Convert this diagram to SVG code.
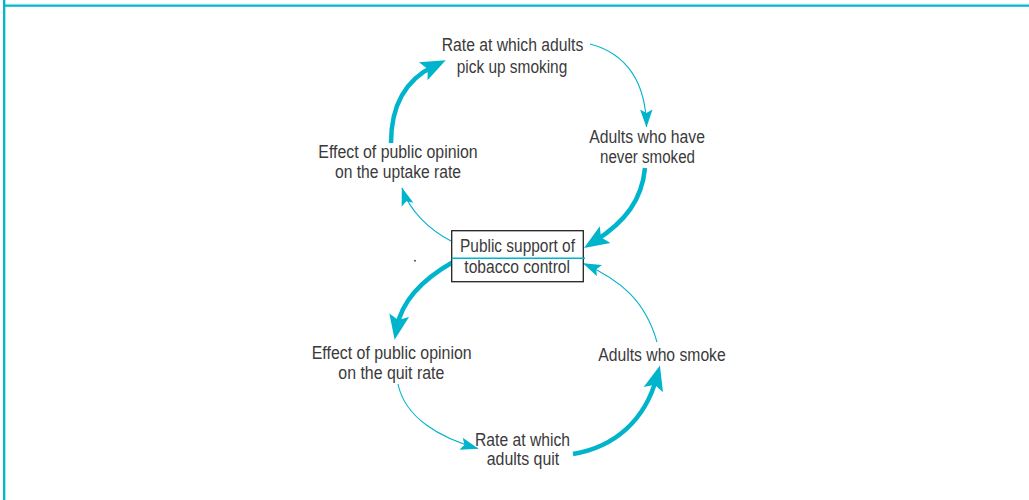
<svg xmlns="http://www.w3.org/2000/svg" width="1029" height="500" viewBox="0 0 1029 500">
<style>
  .lbl { font-family: "Liberation Sans", Arial, sans-serif; font-size: 17.5px; fill: #3a3a3a; }
  .thick { fill: none; stroke: #00b4cc; stroke-width: 4.5; stroke-linecap: butt; }
  .thin { fill: none; stroke: #00b4cc; stroke-width: 1.1; }
  .frame { stroke: #00b4cc; fill: none; }
</style>
<defs>
  <marker id="headThick" markerUnits="userSpaceOnUse" markerWidth="28" markerHeight="22" viewBox="0 0 28 22" refX="12" refY="11" orient="auto">
    <path d="M0,1 L25,11 L0,21 L5,11 z" fill="#00b4cc"/>
  </marker>
  <marker id="headThin" markerUnits="userSpaceOnUse" markerWidth="20" markerHeight="14" viewBox="0 0 20 14" refX="17.5" refY="7" orient="auto">
    <path d="M0,0.8 L18,7 L0,13.2 L3.5,7 z" fill="#00b4cc"/>
  </marker>
</defs>
<rect width="1029" height="500" fill="#ffffff"/>
<g id="frame">
  <line class="frame" x1="3" y1="5.7" x2="1029" y2="5.7" stroke-width="2.2"/>
  <line x1="3" y1="4.2" x2="1029" y2="4.2" stroke="#9fe0ea" stroke-width="0.8"/>
  <line class="frame" x1="4.2" y1="0" x2="4.2" y2="500" stroke-width="2.3"/>
</g>
<g id="connectors">
  <path class="thick" d="M391,143 C391,105 405,80 434,66" marker-end="url(#headThick)"/>
  <path class="thin" d="M590,44 C628,54 646,84 646.5,127" marker-end="url(#headThin)"/>
  <path class="thick" d="M645,168 C642,200 625,222 595,241" marker-end="url(#headThick)"/>
  <path class="thin" d="M451,241 C430,230 410,212 402,188" marker-end="url(#headThin)"/>
  <path class="thick" d="M453,262 C425,278 402,300 397,327" marker-end="url(#headThick)"/>
  <path class="thin" d="M398,384 C405,418 440,438 478,448.5" marker-end="url(#headThin)"/>
  <path class="thick" d="M573,454 C615,447 645,420 656.5,378" marker-end="url(#headThick)"/>
  <path class="thin" d="M657,342 C645,300 620,280 583.5,263.5" marker-end="url(#headThin)"/>
</g>
<g id="node-public-support">
  <rect x="451.7" y="230.7" width="131.6" height="51" fill="#ffffff" stroke="#222222" stroke-width="1.3"/>
  <line x1="451.7" y1="258.3" x2="585" y2="258.3" stroke="#00b4cc" stroke-width="1.5"/>
  <text class="lbl" x="460" y="252.3" textLength="115" lengthAdjust="spacingAndGlyphs">Public support of</text>
  <text class="lbl" x="464.3" y="273.3" textLength="105.7" lengthAdjust="spacingAndGlyphs">tobacco control</text>
</g>
<g id="node-uptake-rate">
  <text class="lbl" x="441.7" y="50.7" textLength="141.6" lengthAdjust="spacingAndGlyphs">Rate at which adults</text>
  <text class="lbl" x="456.7" y="72.7" textLength="110.6" lengthAdjust="spacingAndGlyphs">pick up smoking</text>
</g>
<g id="node-never-smoked">
  <text class="lbl" x="589.3" y="142.7" textLength="115.7" lengthAdjust="spacingAndGlyphs">Adults who have</text>
  <text class="lbl" x="600" y="163.3" textLength="95" lengthAdjust="spacingAndGlyphs">never smoked</text>
</g>
<g id="node-effect-uptake">
  <text class="lbl" x="318.3" y="158.3" textLength="159.4" lengthAdjust="spacingAndGlyphs">Effect of public opinion</text>
  <text class="lbl" x="335" y="178.3" textLength="126" lengthAdjust="spacingAndGlyphs">on the uptake rate</text>
</g>
<g id="node-effect-quit">
  <text class="lbl" x="311.7" y="359.3" textLength="160" lengthAdjust="spacingAndGlyphs">Effect of public opinion</text>
  <text class="lbl" x="338.3" y="379.3" textLength="106" lengthAdjust="spacingAndGlyphs">on the quit rate</text>
</g>
<g id="node-smokers">
  <text class="lbl" x="598.3" y="360.7" textLength="127.4" lengthAdjust="spacingAndGlyphs">Adults who smoke</text>
</g>
<g id="node-quit-rate">
  <text class="lbl" x="475" y="445.7" textLength="95" lengthAdjust="spacingAndGlyphs">Rate at which</text>
  <text class="lbl" x="486.7" y="465" textLength="72.6" lengthAdjust="spacingAndGlyphs">adults quit</text>
</g>
<circle cx="415" cy="260.7" r="1" fill="#3a5a7a"/>
</svg>
